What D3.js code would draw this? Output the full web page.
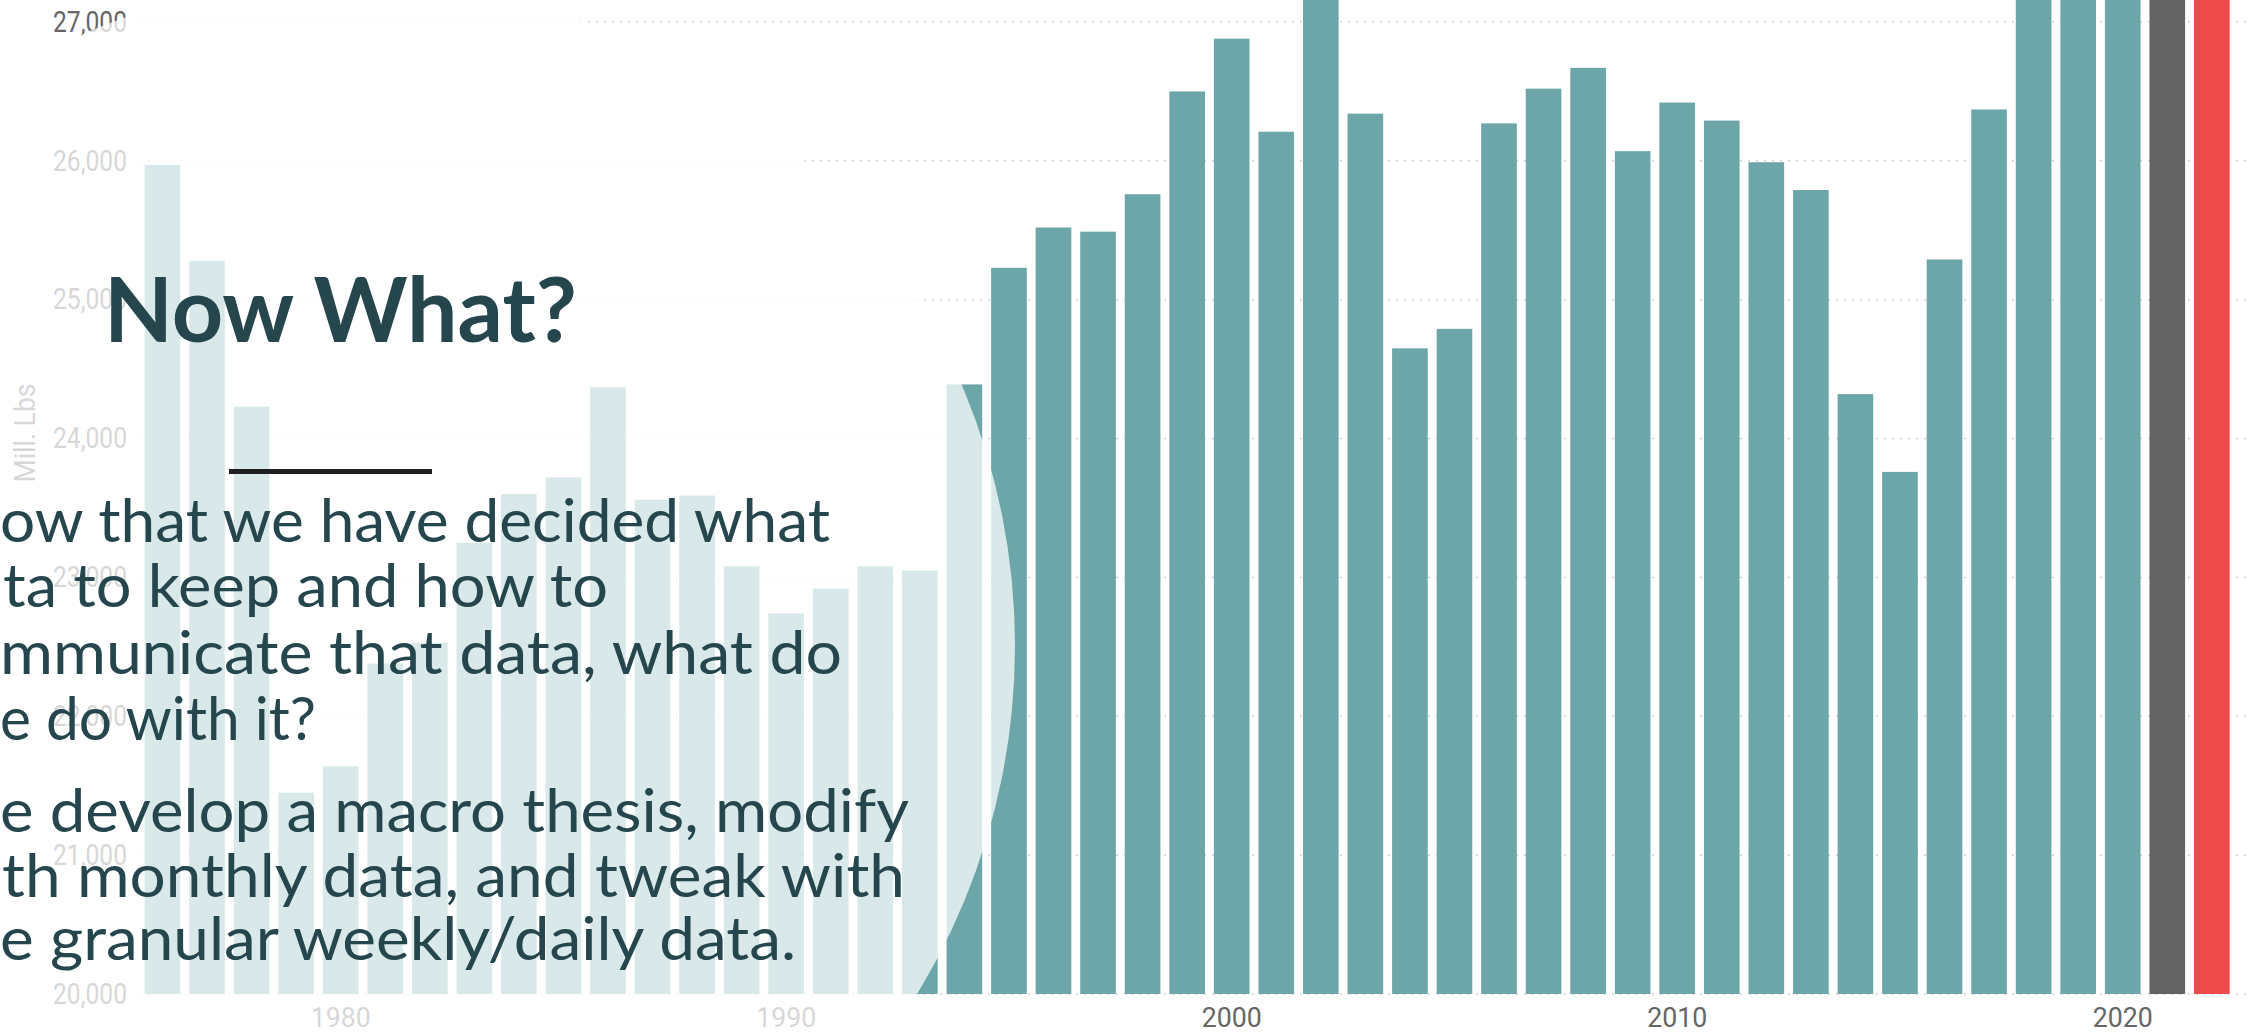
<!DOCTYPE html>
<html><head><meta charset="utf-8">
<script src="https://cdn.jsdelivr.net/npm/d3@7"></script>
<style>
html,body{margin:0;padding:0;background:#fff;overflow:hidden;}
svg{display:block;}
</style></head><body>
<svg id="c" width="2248" height="1034"></svg>
<script>
// ---- data ----
const years = [1976,1977,1978,1979,1980,1981,1982,1983,1984,1985,1986,1987,1988,1989,1990,
  1991,1992,1993,1994,1995,1996,1997,1998,1999,2000,2001,2002,2003,2004,2005,2006,2007,2008,
  2009,2010,2011,2012,2013,2014,2015,2016,2017,2018,2019,2020,2021,2022];
const production = [25970,25280,24230,21450,21640,22380,22530,23250,23600,23720,24370,23560,23590,23080,22740,
  22920,23080,23050,24390,25230,25520,25490,25760,26500,26880,26210,27300,26340,24650,24790,26270,26520,26670,
  26070,26420,26290,25990,25790,24320,23760,25290,26370,27400,27350,27450,27600,27800];
const yTicks = [20000,21000,22000,23000,24000,25000,26000,27000];
const xTickYears = [1980,1990,2000,2010,2020];
const yAxisTitle = "Mill. Lbs";
const title = "Now What?";
const bodyLines = [
  "ow that we have decided what",
  "ta to keep and how to",
  "mmunicate that data, what do",
  "e do with it?",
  "e develop a macro thesis, modify",
  "th monthly data, and tweak with",
  "e granular weekly/daily data."
];

// ---- layout / style ----
const W = 2248, H = 1034;
const teal = "#6CA6A8", gray = "#646464", red = "#F04B4C", ink = "#25464D";
const axisFont = "Roboto, 'Open Sans', sans-serif";
const svg = d3.select("#c");

const x = d3.scaleBand().domain(years).range([140.2, 2234.1]).paddingInner(0.2).paddingOuter(0.1);
const y = d3.scaleLinear().domain([20000, 27000]).range([994, 22]);

// gridlines
svg.append("g").selectAll("line").data(yTicks).join("line")
  .attr("x1", 140).attr("x2", W)
  .attr("y1", d => y(d)).attr("y2", d => y(d))
  .attr("stroke", "#cfcfcf").attr("stroke-width", 1.5).attr("stroke-dasharray", "2,6");

// bars
svg.append("g").selectAll("rect").data(years).join("rect")
  .attr("x", d => x(d)).attr("width", x.bandwidth())
  .attr("y", (d, i) => y(production[i]))
  .attr("height", (d, i) => y(20000) - y(production[i]))
  .attr("fill", d => d === 2022 ? red : d === 2021 ? gray : teal);

// y axis
const gy = svg.append("g").attr("transform", "translate(140,0)")
  .call(d3.axisLeft(y).tickValues(yTicks).tickFormat(d3.format(",")).tickSize(0).tickPadding(13));
gy.select(".domain").remove();
gy.selectAll("text")
  .attr("font-family", axisFont).attr("font-size", 29).attr("fill", "#666")
  .attr("textLength", 74).attr("lengthAdjust", "spacingAndGlyphs");

// x axis
const gx = svg.append("g").attr("transform", "translate(0,994)")
  .call(d3.axisBottom(x).tickValues(xTickYears).tickSize(0).tickPadding(13));
gx.select(".domain").remove();
gx.selectAll("text")
  .attr("font-family", axisFont).attr("font-size", 28).attr("fill", "#666")
  .attr("textLength", 60).attr("lengthAdjust", "spacingAndGlyphs");

// y axis title
svg.append("text")
  .attr("transform", "translate(35,433) rotate(-90)")
  .attr("text-anchor", "middle")
  .attr("font-family", axisFont).attr("font-size", 30).attr("fill", "#666")
  .attr("textLength", 99).attr("lengthAdjust", "spacingAndGlyphs")
  .text(yAxisTitle);

// white translucent circle overlay
svg.append("circle").attr("cx", 348).attr("cy", 646).attr("r", 667)
  .attr("fill", "#fff").attr("fill-opacity", 0.74);

// title
svg.append("text")
  .attr("x", 104).attr("y", 342)
  .attr("font-family", "Lato, sans-serif").attr("font-weight", 700).attr("font-size", 89)
  .attr("fill", ink)
  .attr("textLength", 473).attr("lengthAdjust", "spacingAndGlyphs")
  .text(title);

// divider
svg.append("line").attr("x1", 229).attr("x2", 432).attr("y1", 471.5).attr("y2", 471.5)
  .attr("stroke", "#1f1f1f").attr("stroke-width", 5);

// body text lines
const lineLayout = [
  {x0: 0, x1: 830, base: 542},
  {x0: 3, x1: 608, base: 607},
  {x0: 0, x1: 842, base: 674},
  {x0: 0, x1: 316, base: 740},
  {x0: 0, x1: 909, base: 832},
  {x0: 2, x1: 905, base: 897},
  {x0: 0, x1: 796, base: 960}
];
svg.append("g").selectAll("text").data(bodyLines).join("text")
  .attr("x", (d, i) => lineLayout[i].x0)
  .attr("y", (d, i) => lineLayout[i].base)
  .attr("font-family", "Lato, sans-serif").attr("font-size", 60).attr("fill", ink)
  .attr("textLength", (d, i) => lineLayout[i].x1 - lineLayout[i].x0)
  .attr("lengthAdjust", "spacingAndGlyphs")
  .text(d => d);
</script>
</body></html>
